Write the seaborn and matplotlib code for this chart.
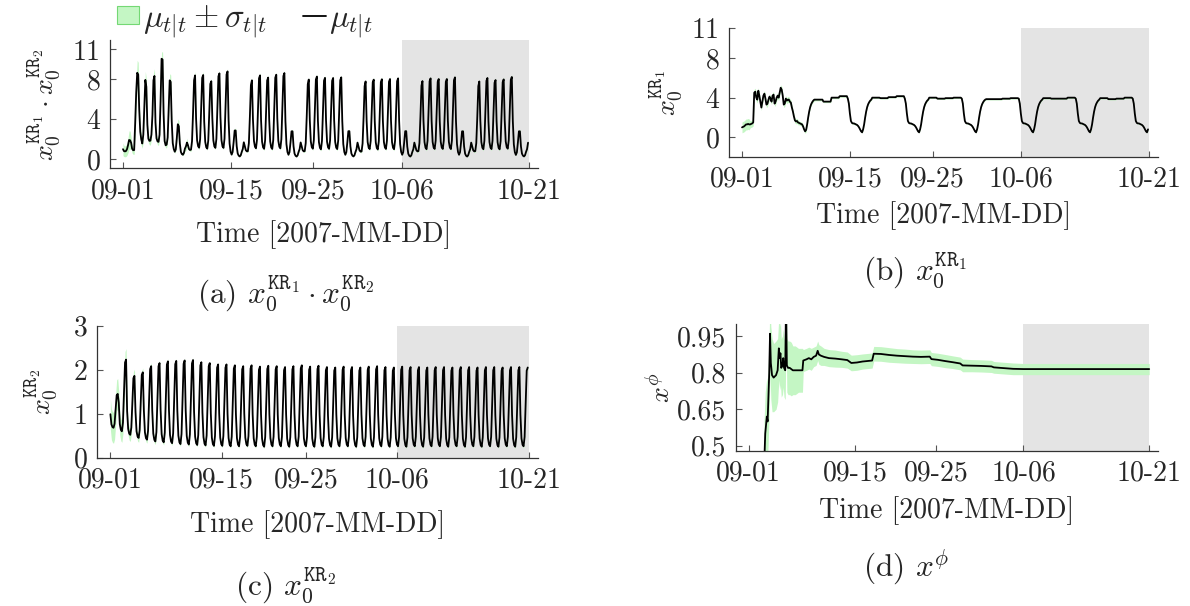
import numpy as np
import matplotlib
matplotlib.use("Agg")
import matplotlib.pyplot as plt
from matplotlib.patches import Patch
from matplotlib.lines import Line2D
import seaborn as sns

# ---------------------------------------------------------------- data
N_DAYS = 50
STEPS = 8  # 3-hourly filter outputs per day

tick_days = [0.0, 13.3, 23.4, 34.3, 50.0]
tick_labels = ["09-01", "09-15", "09-25", "10-06", "10-21"]
forecast_start = 34.3
forecast_end = 50.0

# x0^KR2: evening peak and morning trough of every day, plus the daily profile
kr2_peak = [1.45, 2.23, 1.86, 1.94, 2.08, 2.15, 2.19, 2.20, 2.21, 2.22,
            2.17, 2.15, 2.12, 2.12, 2.10, 2.08, 2.10, 2.07, 2.09, 2.08,
            2.06, 2.08, 2.10, 2.07, 2.09, 2.06, 2.05, 2.07, 2.06, 2.05,
            2.07, 2.08, 2.06, 2.05, 2.07, 2.06, 2.06, 2.05, 2.06, 2.06,
            2.05, 2.06, 2.06, 2.05, 2.06, 2.06, 2.05, 2.06, 2.06, 2.05]
kr2_trough = [0.68, 0.60, 0.52, 0.45, 0.41, 0.37, 0.35, 0.33, 0.31, 0.30,
              0.29, 0.28, 0.27, 0.27, 0.26, 0.26, 0.27, 0.26, 0.25, 0.26,
              0.26, 0.25, 0.26, 0.26, 0.25, 0.26, 0.25, 0.26, 0.26, 0.25,
              0.26, 0.25, 0.26, 0.25, 0.26, 0.25, 0.26, 0.25, 0.26, 0.26,
              0.25, 0.26, 0.25, 0.26, 0.25, 0.26, 0.25, 0.26, 0.25, 0.26]
kr2_profile = [0.40, 0.10, 0.02, 0.00, 0.12, 0.52, 0.96, 1.00]
kr2_sigma = [0.35, 0.25, 0.15, 0.10, 0.08, 0.07, 0.06, 0.05, 0.05, 0.05] + [0.04] * 40

# x0^KR1: first eight days sample by sample, then the weekly pattern
kr1_first_days = [
    1.00, 1.05, 1.10, 1.20, 1.30, 1.30, 1.35, 1.30,
    1.30, 1.35, 1.40, 1.50, 4.50, 4.60, 4.00, 3.80,
    4.70, 4.20, 3.60, 3.00, 3.60, 4.20, 4.40, 3.90,
    3.30, 3.40, 3.80, 4.10, 3.90, 3.60, 4.20, 4.30,
    3.40, 3.60, 4.00, 4.20, 4.00, 4.50, 5.00, 4.80,
    4.20, 3.30, 3.40, 3.90, 3.70, 3.80, 3.80, 3.60,
    3.50, 3.00, 2.60, 2.10, 1.70, 1.60, 1.65, 1.50,
    1.45, 1.40, 1.35, 1.30, 1.10, 0.80, 0.60, 0.75,
]
kr1_monday = [1.30, 2.00, 2.60, 3.05, 3.35, 3.55, 3.70, 3.80]
kr1_saturday = [3.90, 3.40, 2.40, 1.65, 1.45, 1.40, 1.40, 1.35]
kr1_sunday = [1.30, 1.25, 1.15, 1.00, 0.80, 0.60, 0.50, 0.80]
kr1_workdays = [[3.80, 3.60, 4.00, 4.15],
                [4.00, 3.95, 4.05, 4.15],
                [4.00, 3.90, 3.95, 4.00],
                [3.85, 3.85, 3.90, 3.95],
                [3.95, 3.90, 3.90, 4.00],
                [3.95, 3.85, 3.90, 4.00]]
kr1_sigma = [0.55, 0.35, 0.30, 0.30, 0.30, 0.30, 0.25, 0.20, 0.15, 0.12,
             0.10, 0.10, 0.10, 0.10] + [0.08] * 36

# x^phi
phi_days = [1.90, 2.05, 2.25, 2.35, 2.55, 2.65, 2.75, 2.90, 3.10, 3.40,
            3.60, 3.75, 3.85, 3.95, 4.05, 4.20, 4.30, 4.40, 4.55, 4.65,
            4.75, 4.90, 5.10, 5.30, 5.50, 5.80, 6.20, 6.70, 6.80, 7.20,
            7.50, 7.80, 8.10, 8.40, 8.60, 8.75, 9.00, 9.40, 10.0, 10.8,
            11.6, 12.3, 12.8, 13.5, 14.2, 15.4, 15.6, 16.5, 17.5, 18.5,
            19.5, 20.5, 21.5, 22.6, 22.8, 23.6, 24.5, 25.5, 26.4, 26.7,
            27.8, 29.0, 30.3, 30.6, 31.8, 33.0, 34.3, 50.0]
phi_mean = [0.40, 0.55, 0.62, 0.60, 0.80, 0.96, 0.84, 0.79, 0.78, 0.79,
            0.81, 0.90, 0.86, 0.88, 0.82, 0.83, 0.86, 0.82, 0.81, 1.10,
            0.83, 0.82, 0.82, 0.815, 0.81, 0.81, 0.81, 0.81, 0.85, 0.855,
            0.86, 0.855, 0.865, 0.87, 0.89, 0.875, 0.87, 0.865, 0.86, 0.858,
            0.855, 0.852, 0.84, 0.842, 0.846, 0.85, 0.878, 0.877, 0.873, 0.870,
            0.868, 0.866, 0.865, 0.866, 0.856, 0.853, 0.848, 0.843, 0.838, 0.830,
            0.829, 0.828, 0.826, 0.822, 0.819, 0.816, 0.815, 0.815]
phi_sigma = [0.20, 0.17, 0.16, 0.16, 0.16, 0.16, 0.15, 0.15, 0.14, 0.14,
             0.13, 0.13, 0.13, 0.13, 0.12, 0.12, 0.12, 0.12, 0.12, 0.12,
             0.11, 0.11, 0.11, 0.11, 0.10, 0.10, 0.09, 0.09, 0.045, 0.045,
             0.045, 0.045, 0.04, 0.04, 0.04, 0.04, 0.04, 0.035, 0.035, 0.035,
             0.033, 0.033, 0.032, 0.032, 0.031, 0.031, 0.03, 0.03, 0.03, 0.029,
             0.029, 0.028, 0.028, 0.028, 0.027, 0.027, 0.027, 0.026, 0.026, 0.026,
             0.025, 0.025, 0.025, 0.024, 0.024, 0.024, 0.023, 0.023]

# ------------------------------------------------------ build the series
t = np.arange(N_DAYS * STEPS) / STEPS

profile = np.array(kr2_profile)
kr2 = np.concatenate([lo + (hi - lo) * profile for hi, lo in zip(kr2_peak, kr2_trough)])
kr2_sd = np.repeat(kr2_sigma, STEPS)

kr1_days = [kr1_first_days[i * STEPS:(i + 1) * STEPS] for i in range(8)]
for levels in kr1_workdays:
    kr1_days.append(kr1_monday)
    kr1_days.extend([[lv] * STEPS for lv in levels])
    kr1_days.append(kr1_saturday)
    kr1_days.append(kr1_sunday)
kr1 = np.concatenate([np.asarray(d, dtype=float) for d in kr1_days])
kr1_sd = np.repeat(kr1_sigma, STEPS)

prod = kr1 * kr2
prod_sd = np.sqrt((kr2 * kr1_sd) ** 2 + (kr1 * kr2_sd) ** 2)

phi_days = np.asarray(phi_days)
phi_mean = np.asarray(phi_mean)
phi_sigma = np.asarray(phi_sigma)

# ---------------------------------------------------------------- style
sns.set_theme(style="ticks")
plt.rcParams.update({
    "font.family": "serif",
    "font.serif": ["cmr10"],
    "mathtext.fontset": "cm",
    "axes.formatter.use_mathtext": True,
    "axes.unicode_minus": False,
    "font.size": 20,
    "axes.linewidth": 0.9,
    "axes.edgecolor": "#333333",
})

BAND = "#c4f6c4"
BAND_EDGE = "#74d874"
SHADE = "#e4e4e4"
FS = 20          # tick labels and axis labels
FS_CAPTION = 22.5
FS_LEGEND = 23.5
LW = 1.3

W, H = 1190, 606
fig = plt.figure(figsize=(W / 100, H / 100), dpi=100)


def px_axes(left, right, top, bottom):
    return fig.add_axes([left / W, 1 - bottom / H, (right - left) / W, (bottom - top) / H])


def draw(ax, x, mean, sd, ylim, yticks, yticklabels, ylabel, ylabel_x, xlabel_y):
    ax.axvspan(forecast_start, forecast_end, color=SHADE, lw=0, zorder=0)
    ax.fill_between(x, mean - sd, mean + sd, color=BAND, lw=0, zorder=1)
    sns.lineplot(x=x, y=mean, ax=ax, color="black", linewidth=LW,
                 estimator=None, zorder=2)
    ax.set_xlim(-1.6, 51.1)
    ax.set_ylim(*ylim)
    ax.set_xticks(tick_days)
    ax.set_xticklabels(tick_labels, fontsize=FS)
    ax.set_yticks(yticks)
    ax.set_yticklabels(yticklabels, fontsize=FS)
    ax.tick_params(direction="in", length=4, width=0.8, color="#555555", pad=7)
    sns.despine(ax=ax)
    pos = ax.get_position()
    ax.set_ylabel(ylabel, fontsize=FS, rotation=90, ha="center", va="center")
    ax.yaxis.set_label_coords(ylabel_x / W, 0.5 * (pos.y0 + pos.y1),
                              transform=fig.transFigure)
    ax.set_xlabel("Time [2007-MM-DD]", fontsize=FS, va="baseline")
    ax.xaxis.set_label_coords(0.5 * (pos.x0 + pos.x1), 1 - xlabel_y / H,
                              transform=fig.transFigure)


ax_a = px_axes(110, 538, 40, 168.5)
draw(ax_a, t, prod, prod_sd, (-0.95, 11.95), [0, 4, 8, 11], ["0", "4", "8", "11"],
     r"$x_0^{\mathtt{KR}_1}\cdot x_0^{\mathtt{KR}_2}$", 45, 241.7)

ax_b = px_axes(729, 1158, 28.3, 156.7)
draw(ax_b, t, kr1, kr1_sd, (-1.96, 11.0), [0, 4, 8, 11], ["0", "4", "8", "11"],
     r"$x_0^{\mathtt{KR}_1}$", 667, 223)

ax_c = px_axes(97, 538, 325.7, 457.7)
draw(ax_c, t, kr2, kr2_sd, (0, 3), [0, 1, 2, 3], ["0", "1", "2", "3"],
     r"$x_0^{\mathtt{KR}_2}$", 42, 531.7)

ax_d = px_axes(736, 1158, 324, 450.7)
draw(ax_d, phi_days, phi_mean, phi_sigma, (0.48, 1.0), [0.5, 0.65, 0.8, 0.95],
     ["0.5", "0.65", "0.8", "0.95"], r"$x^{\phi}$", 662, 517.7)

# sub-figure captions
fig.text(286 / W, 1 - 303 / H, r"(a) $x_0^{\mathtt{KR}_1}\cdot x_0^{\mathtt{KR}_2}$",
         ha="center", va="baseline", fontsize=FS_CAPTION)
fig.text(863 / W, 1 - 280 / H, r"(b) $x_0^{\mathtt{KR}_1}$",
         ha="left", va="baseline", fontsize=FS_CAPTION)
fig.text(286 / W, 1 - 595 / H, r"(c) $x_0^{\mathtt{KR}_2}$",
         ha="center", va="baseline", fontsize=FS_CAPTION)
fig.text(863 / W, 1 - 577 / H, r"(d) $x^{\phi}$",
         ha="left", va="baseline", fontsize=FS_CAPTION)

handles = [Patch(facecolor=BAND, edgecolor=BAND_EDGE, linewidth=0.8),
           Line2D([], [], color="black", linewidth=LW)]
fig.legend(handles, [r"$\mu_{t|t} \pm \sigma_{t|t}$", r"$\mu_{t|t}$"],
           loc="upper left", bbox_to_anchor=(115 / W, 1.0), ncol=2, frameon=False,
           fontsize=FS_LEGEND, handlelength=0.7, handleheight=0.45, handletextpad=0.1,
           columnspacing=1.1, borderaxespad=0.0, borderpad=0.05)

fig.savefig("out.png", dpi=100)
